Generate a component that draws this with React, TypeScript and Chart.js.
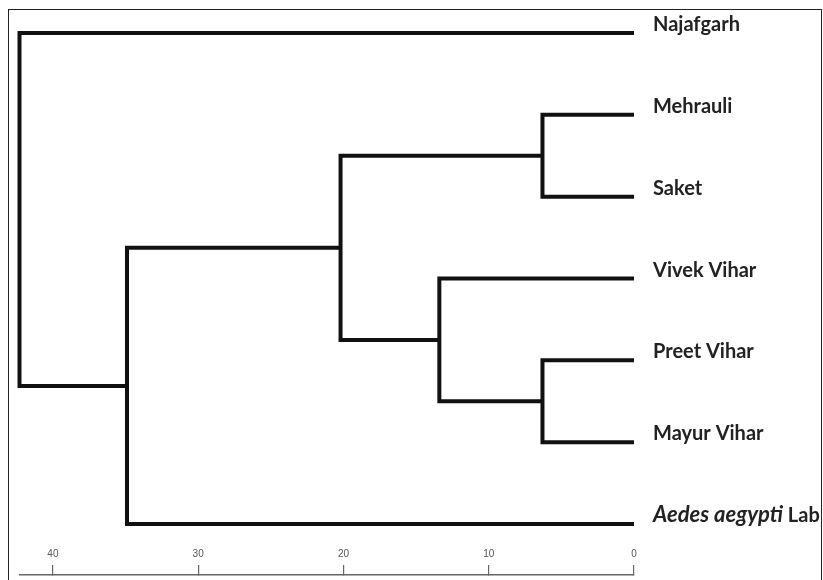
import React, { useEffect, useRef } from "react";
import { Chart, registerables } from "chart.js";

Chart.register(...registerables);

// Leaves, top to bottom
const leafLabels = ["Najafgarh", "Mehrauli", "Saket", "Vivek Vihar", "Preet Vihar", "Mayur Vihar", "Aedes aegypti Lab"];
const leafItalicPart = ["", "", "", "", "", "", "Aedes aegypti"];

// Linkage: node index = leaves.length + k, joins linkLeft[k] and linkRight[k] at linkHeight[k]
const linkLeft = [1, 4, 3, 7, 10, 0];
const linkRight = [2, 5, 8, 9, 6, 11];
const linkHeight = [6.3, 6.3, 13.4, 20.2, 34.9, 42.3];

// Distance axis ticks
const axisTicks = [0, 10, 20, 30, 40];

function buildDatasets() {
  const pos: { x: number; y: number }[] = leafLabels.map((_, i) => ({ x: 0, y: i }));
  const sets: any[] = [];
  linkHeight.forEach((h, k) => {
    const l = pos[linkLeft[k]];
    const r = pos[linkRight[k]];
    pos.push({ x: h, y: (l.y + r.y) / 2 });
    sets.push({
      label: "node" + k,
      data: [
        { x: l.x, y: l.y },
        { x: h, y: l.y },
        { x: h, y: r.y },
        { x: r.x, y: r.y },
      ],
      borderColor: "#111",
      borderWidth: 4,
      pointRadius: 0,
      tension: 0,
      fill: false,
      clip: false,
      borderCapStyle: "butt",
      borderJoinStyle: "miter",
    });
  });
  return sets;
}

const leafLabelPlugin = {
  id: "leafLabels",
  afterDatasetsDraw(chart: any) {
    const { ctx, chartArea, scales } = chart;
    ctx.save();
    ctx.fillStyle = "#222";
    ctx.textBaseline = "alphabetic";
    ctx.textAlign = "left";
    leafLabels.forEach((name, i) => {
      const y = scales.y.getPixelForValue(i) - 2;
      let x = chartArea.right + 19;
      const it = leafItalicPart[i];
      let rest = name;
      if (it && name.startsWith(it)) {
        ctx.font = "italic bold 22px Lato";
        ctx.fillText(it, x, y);
        x += ctx.measureText(it).width;
        rest = name.slice(it.length);
      }
      ctx.font = "bold 20px Lato";
      ctx.fillText(rest, x, y);
    });
    ctx.restore();
  },
};

export default function App() {
  const canvasRef = useRef<HTMLCanvasElement | null>(null);

  useEffect(() => {
    let chart: Chart | null = null;
    let cancelled = false;
    const make = () => {
      if (cancelled || !canvasRef.current) return;
      chart = new Chart(canvasRef.current, {
        type: "line",
        data: { datasets: buildDatasets() },
        options: {
          animation: false,
          responsive: false,
          devicePixelRatio: 1,
          layout: { padding: { left: 19.5, right: 189, top: 4.36, bottom: 5 } },
          plugins: { legend: { display: false }, tooltip: { enabled: false } },
          scales: {
            x: {
              type: "linear",
              reverse: true,
              min: 0,
              max: 42.3,
              afterBuildTicks: (scale: any) => {
                scale.ticks = axisTicks.map((v) => ({ value: v }));
              },
              border: { display: true, color: "#666", width: 1.5 },
              grid: { drawOnChartArea: false, drawTicks: true, tickLength: -10, color: "#666", lineWidth: 1.2 },
              ticks: {
                font: { family: "Liberation Sans", size: 10 },
                color: "#555",
                padding: -17,
                maxRotation: 0,
              },
            },
            y: {
              type: "linear",
              reverse: true,
              min: -0.35,
              max: 6.623,
              display: false,
            },
          },
        },
        plugins: [leafLabelPlugin],
      });
    };
    const fl = (document as any).fonts;
    if (fl && fl.load) {
      Promise.all([fl.load("bold 20px Lato"), fl.load("italic bold 22px Lato")]).then(make, make);
    } else make();
    return () => {
      cancelled = true;
      if (chart) chart.destroy();
    };
  }, []);

  return (
    <div style={{ position: "fixed", left: 0, top: 0, width: 823, height: 580, overflow: "hidden", background: "#fff" }}>
      <div
        style={{
          position: "absolute",
          left: 8,
          top: 9,
          width: 814,
          height: 640,
          border: "1.5px solid #222",
          boxSizing: "border-box",
        }}
      />
      <canvas ref={canvasRef} width={823} height={580} style={{ position: "absolute", left: 0, top: 0, width: 823, height: 580 }} />
    </div>
  );
}
